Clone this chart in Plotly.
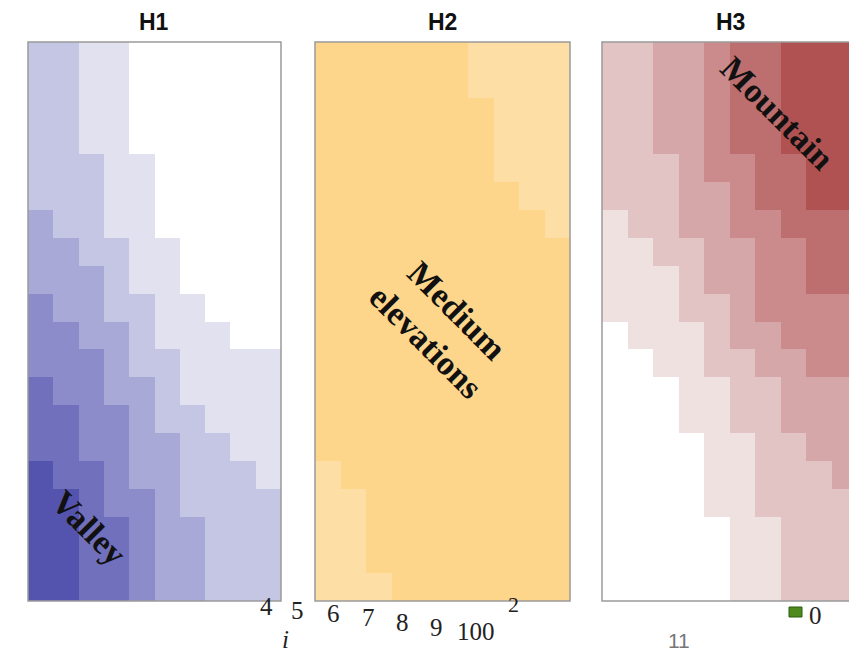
import plotly.graph_objects as go

W, H = 849, 652

# ---------------- data (levels per cell, row 0 = top, 10 columns x 20 rows) -------------
panel_titles = ["H1", "H2", "H3"]
column_index = list(range(10))
row_index = list(range(20))

H1_levels = [
    [2, 2, 1, 1, 0, 0, 0, 0, 0, 0],
    [2, 2, 1, 1, 0, 0, 0, 0, 0, 0],
    [2, 2, 1, 1, 0, 0, 0, 0, 0, 0],
    [2, 2, 1, 1, 0, 0, 0, 0, 0, 0],
    [2, 2, 2, 1, 1, 0, 0, 0, 0, 0],
    [2, 2, 2, 1, 1, 0, 0, 0, 0, 0],
    [3, 2, 2, 1, 1, 0, 0, 0, 0, 0],
    [3, 3, 2, 2, 1, 1, 0, 0, 0, 0],
    [3, 3, 3, 2, 1, 1, 0, 0, 0, 0],
    [4, 3, 3, 2, 2, 1, 1, 0, 0, 0],
    [4, 4, 3, 3, 2, 1, 1, 1, 0, 0],
    [4, 4, 4, 3, 2, 2, 1, 1, 1, 1],
    [5, 4, 4, 3, 3, 2, 1, 1, 1, 1],
    [5, 5, 4, 4, 3, 2, 2, 1, 1, 1],
    [5, 5, 4, 4, 3, 3, 2, 2, 1, 1],
    [6, 5, 5, 4, 3, 3, 2, 2, 2, 1],
    [6, 6, 5, 4, 4, 3, 2, 2, 2, 2],
    [6, 6, 5, 5, 4, 3, 3, 2, 2, 2],
    [6, 6, 5, 5, 4, 3, 3, 2, 2, 2],
    [6, 6, 5, 5, 4, 3, 3, 2, 2, 2],
]

H2_levels = [
    [0, 0, 0, 0, 0, 0, 1, 1, 1, 1],
    [0, 0, 0, 0, 0, 0, 1, 1, 1, 1],
    [0, 0, 0, 0, 0, 0, 0, 1, 1, 1],
    [0, 0, 0, 0, 0, 0, 0, 1, 1, 1],
    [0, 0, 0, 0, 0, 0, 0, 1, 1, 1],
    [0, 0, 0, 0, 0, 0, 0, 0, 1, 1],
    [0, 0, 0, 0, 0, 0, 0, 0, 0, 1],
    [0, 0, 0, 0, 0, 0, 0, 0, 0, 0],
    [0, 0, 0, 0, 0, 0, 0, 0, 0, 0],
    [0, 0, 0, 0, 0, 0, 0, 0, 0, 0],
    [0, 0, 0, 0, 0, 0, 0, 0, 0, 0],
    [0, 0, 0, 0, 0, 0, 0, 0, 0, 0],
    [0, 0, 0, 0, 0, 0, 0, 0, 0, 0],
    [0, 0, 0, 0, 0, 0, 0, 0, 0, 0],
    [0, 0, 0, 0, 0, 0, 0, 0, 0, 0],
    [1, 0, 0, 0, 0, 0, 0, 0, 0, 0],
    [1, 1, 0, 0, 0, 0, 0, 0, 0, 0],
    [1, 1, 0, 0, 0, 0, 0, 0, 0, 0],
    [1, 1, 0, 0, 0, 0, 0, 0, 0, 0],
    [1, 1, 1, 0, 0, 0, 0, 0, 0, 0],
]

H3_levels = [
    [2, 2, 3, 3, 4, 5, 5, 6, 6, 6],
    [2, 2, 3, 3, 4, 5, 5, 6, 6, 6],
    [2, 2, 3, 3, 4, 5, 5, 6, 6, 6],
    [2, 2, 3, 3, 4, 5, 5, 6, 6, 6],
    [2, 2, 2, 3, 4, 4, 5, 5, 6, 6],
    [2, 2, 2, 3, 3, 4, 5, 5, 6, 6],
    [1, 2, 2, 3, 3, 4, 4, 5, 5, 5],
    [1, 1, 2, 2, 3, 3, 4, 4, 5, 5],
    [1, 1, 1, 2, 3, 3, 4, 4, 5, 5],
    [1, 1, 1, 2, 2, 3, 4, 4, 4, 4],
    [0, 1, 1, 1, 2, 3, 3, 4, 4, 4],
    [0, 0, 1, 1, 2, 2, 3, 3, 4, 4],
    [0, 0, 0, 1, 1, 2, 2, 3, 3, 3],
    [0, 0, 0, 1, 1, 2, 2, 3, 3, 3],
    [0, 0, 0, 0, 1, 1, 2, 2, 3, 3],
    [0, 0, 0, 0, 1, 1, 2, 2, 2, 3],
    [0, 0, 0, 0, 1, 1, 2, 2, 2, 2],
    [0, 0, 0, 0, 0, 1, 1, 2, 2, 2],
    [0, 0, 0, 0, 0, 1, 1, 2, 2, 2],
    [0, 0, 0, 0, 0, 1, 1, 2, 2, 2],
]

H1_colors = ["#ffffff", "#e1e1f0", "#c5c6e4", "#a9a9d8", "#8d8cca", "#7070bc", "#5454ae"]
H2_colors = ["#fdd58b", "#fddfa6"]
H3_colors = ["#ffffff", "#f0e1e1", "#e2c4c5", "#d6a7a8", "#cb8a8b", "#bd6e6e", "#b05252"]

region_labels = ["Valley", "Medium<br>elevations", "Mountain"]
axis_tick_labels = ["4", "5", "6", "7", "8", "9", "100"]

# ---------------- layout helpers (pixel -> paper) ----------------
def px(x):
    return x / W


def py(y):
    return 1 - y / H


panel_px = [(28, 281), (315, 570), (602, 857)]
top_px, bot_px = 42, 601


def scale(colors):
    n = len(colors)
    return [[i / (n - 1), c] for i, c in enumerate(colors)]


fig = go.Figure()
data = [(H1_levels, H1_colors), (H2_levels, H2_colors), (H3_levels, H3_colors)]
for i, (z, cols) in enumerate(data):
    sfx = "" if i == 0 else str(i + 1)
    fig.add_trace(go.Heatmap(
        z=z, x=column_index, y=row_index,
        colorscale=scale(cols), zmin=0, zmax=len(cols) - 1,
        showscale=False, xaxis="x" + sfx, yaxis="y" + sfx,
        hoverinfo="skip",
    ))

layout = dict(
    width=W, height=H, margin=dict(l=0, r=0, t=0, b=0),
    paper_bgcolor="white", plot_bgcolor="white", showlegend=False,
)
for i, (x0, x1) in enumerate(panel_px):
    sfx = "" if i == 0 else str(i + 1)
    d0 = px(x0)
    d1 = min(1.0, px(x1))
    visible_cols = (min(x1, W) - x0) / ((x1 - x0) / 10.0)
    layout["xaxis" + sfx] = dict(
        domain=[d0, d1], range=[-0.5, -0.5 + visible_cols],
        showticklabels=False, showgrid=False, zeroline=False, ticks="",
        anchor="y" + sfx, fixedrange=True,
    )
    layout["yaxis" + sfx] = dict(
        domain=[py(bot_px), py(top_px)], range=[19.5, -0.5],
        showticklabels=False, showgrid=False, zeroline=False, ticks="",
        anchor="x" + sfx, fixedrange=True,
    )
fig.update_layout(**layout)

# panel frames
shapes = []
for i, (x0, x1) in enumerate(panel_px):
    shapes.append(dict(type="rect", xref="paper", yref="paper",
                       x0=px(x0), x1=px(x1 if i < 2 else 870), y0=py(bot_px), y1=py(top_px),
                       line=dict(color="#9a9a9a", width=1.5), fillcolor="rgba(0,0,0,0)"))
# green legend square fragment
shapes.append(dict(type="rect", xref="paper", yref="paper",
                   x0=px(789), x1=px(802), y0=py(617), y1=py(607),
                   line=dict(color="#2f5a10", width=1), fillcolor="#4f8a1f"))
fig.update_layout(shapes=shapes)

ann = []
title_x = [154, 442, 730]
for t, x in zip(panel_titles, title_x):
    ann.append(dict(text="<b>" + t + "</b>", x=px(x), y=py(22), xref="paper", yref="paper",
                    showarrow=False, font=dict(family="Liberation Sans, Arial", size=23, color="#111"),
                    xanchor="center", yanchor="middle"))

label_pos = [(89, 527), (442, 326), (778, 113)]
for t, (x, y) in zip(region_labels, label_pos):
    ann.append(dict(text="<b>" + t + "</b>", x=px(x), y=py(y), xref="paper", yref="paper", showarrow=False,
                    textangle=45, font=dict(family="Liberation Serif, Times New Roman", size=34, color="#111"),
                    xanchor="center", yanchor="middle"))

tick_pos = [(266, 606), (297, 610), (333, 613), (368, 617), (402, 622), (436, 627), (476, 631)]
for t, (x, y) in zip(axis_tick_labels, tick_pos):
    ann.append(dict(text=t, x=px(x), y=py(y), xref="paper", yref="paper", showarrow=False,
                    font=dict(family="Liberation Serif, Times New Roman", size=25, color="#222"),
                    xanchor="center", yanchor="middle"))
ann.append(dict(text="<i>i</i>", x=px(285), y=py(639), xref="paper", yref="paper", showarrow=False,
                font=dict(family="Liberation Serif", size=25, color="#222"), xanchor="center", yanchor="middle"))
ann.append(dict(text="2", x=px(513), y=py(604), xref="paper", yref="paper", showarrow=False,
                font=dict(family="Liberation Serif", size=22, color="#222"), xanchor="center", yanchor="middle"))
ann.append(dict(text="0", x=px(815), y=py(615), xref="paper", yref="paper", showarrow=False,
                font=dict(family="Liberation Serif", size=25, color="#222"), xanchor="center", yanchor="middle"))
ann.append(dict(text="11", x=px(679), y=py(640), xref="paper", yref="paper", showarrow=False,
                font=dict(family="Liberation Sans, Arial", size=21, color="#777"), xanchor="center", yanchor="middle"))
fig.update_layout(annotations=ann)

fig.write_html("out.html")
